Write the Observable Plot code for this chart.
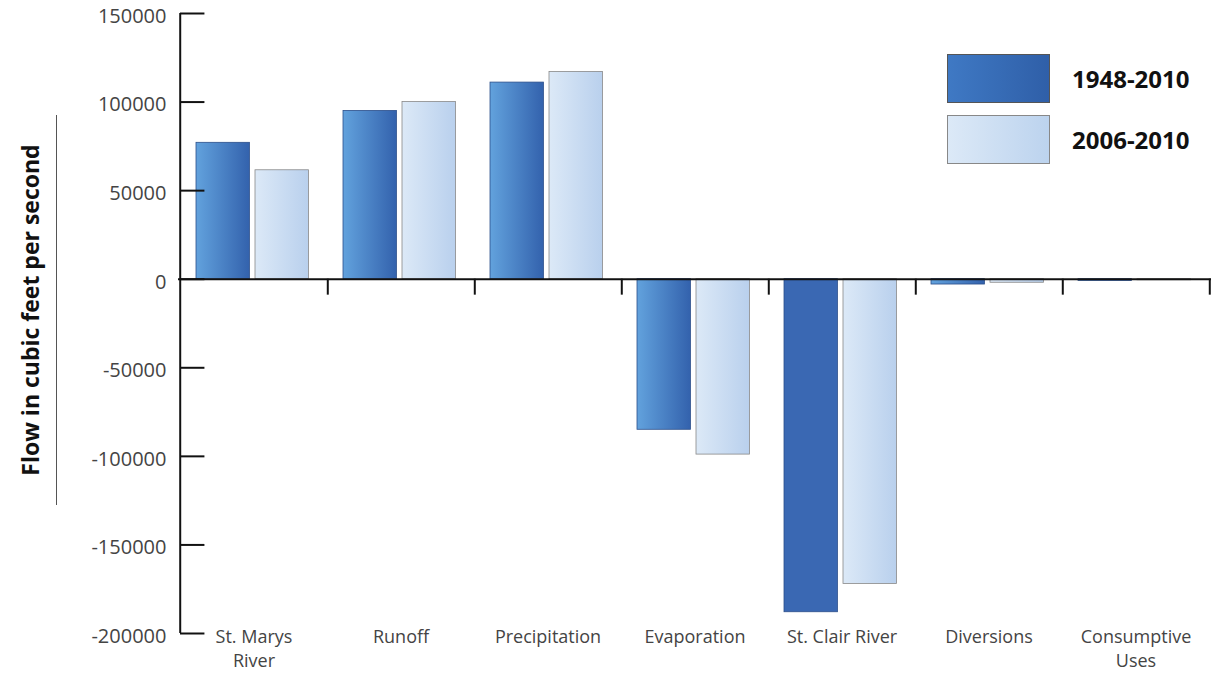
<!DOCTYPE html>
<html><head><meta charset="utf-8">
<script src="https://cdn.jsdelivr.net/npm/d3@7"></script>
<script src="https://cdn.jsdelivr.net/npm/@observablehq/plot@0.6"></script>
<style>
body{margin:0;background:#fff;font-family:"Open Sans",sans-serif}
#wrap{position:relative;width:1221px;height:676px}
#ylab{position:absolute;left:30px;top:310px;transform:translate(-50%,-50%) rotate(-90deg);font-weight:bold;font-size:23px;color:#111;white-space:nowrap}
#yline{position:absolute;left:56px;top:115px;width:1px;height:390px;background:#555}
.leg{position:absolute;left:947px;width:103px;height:49px;border:1px solid #555;box-sizing:border-box}
.legt{position:absolute;left:1072px;font-weight:bold;font-size:24px;color:#111}
</style></head><body>
<div id="wrap">
<div id="chart"></div>
<div id="ylab">Flow in cubic feet per second</div>
<div id="yline"></div>
<div class="leg" style="top:54px;background:linear-gradient(to right,#3f79c4,#2f5fa8)"></div>
<div class="legt" style="top:62px">1948-2010</div>
<div class="leg" style="top:115px;background:linear-gradient(to right,#dce9f7,#bcd3ee);border-color:#888"></div>
<div class="legt" style="top:123px">2006-2010</div>
</div>
<script>
const categories = ["St. Marys\nRiver", "Runoff", "Precipitation", "Evaporation", "St. Clair River", "Diversions", "Consumptive\nUses"]
const v1948 = [77000, 95000, 111000, -85000, -188000, -3000, -1000]
const v2006 = [61500, 100000, 117000, -99000, -172000, -2000, -600]
const yTicks = [150000, 100000, 50000, 0, -50000, -100000, -150000, -200000]

const d1 = categories.map((c, i) => ({cat: c, v: v1948[i]}))
const d2 = categories.map((c, i) => ({cat: c, v: v2006[i]}))
const W = 1221, ml = 178, mr = 10
const band = (W - ml - mr) / categories.length

const chart = Plot.plot({
  width: W, height: 676,
  marginLeft: ml, marginRight: mr, marginTop: 13, marginBottom: 43,
  style: {fontFamily: "Open Sans", fontSize: "19px", color: "#444", overflow: "visible"},
  x: {domain: categories, padding: 0, axis: null},
  y: {domain: [-200000, 150000], axis: null},
  marks: [
    Plot.barY(d1, {x: "cat", y: "v", insetLeft: 16, insetRight: band - 70,
      fill: d => d.cat === "St. Clair River" ? "#3a68b3" : "url(#g1)", stroke: "#2c4f8a", strokeWidth: 0.8}),
    Plot.barY(d2, {x: "cat", y: "v", insetLeft: 75, insetRight: band - 129,
      fill: "url(#g2)", stroke: "#888", strokeWidth: 0.8}),
    Plot.ruleY([0], {stroke: "#111", strokeWidth: 2}),
    Plot.ruleX(categories, {x: d => d, y1: 0, y2: -9000, dx: band / 2, stroke: "#111", strokeWidth: 2}),
    Plot.ruleX([categories[0]], {x: d => d, y1: -200000, y2: 150000, dx: -band / 2, stroke: "#111", strokeWidth: 2}),
    Plot.tickY(yTicks, {y: d => d, x: () => categories[0], insetRight: band - 25, stroke: "#111", strokeWidth: 2}),
    Plot.axisY(yTicks, {anchor: "left", tickSize: 0, tickPadding: 12, label: null, fontSize: 20, fill: "#444",
      tickFormat: d => String(d), dy: 3}),
    Plot.axisX({anchor: "bottom", tickSize: 0, tickPadding: 0, label: null, fontSize: 18, fill: "#444", lineHeight: 1.35, dy: -8})
  ]
})

const defs = d3.select(chart).insert("defs", ":first-child")
const grad = (id, a, b) => {
  const g = defs.append("linearGradient").attr("id", id).attr("x1", "0%").attr("x2", "100%")
  g.append("stop").attr("offset", "0%").attr("stop-color", a)
  g.append("stop").attr("offset", "100%").attr("stop-color", b)
}
grad("g1", "#62a2dd", "#3362ad")
grad("g2", "#dce9f7", "#b9d0ed")

d3.select('#chart').append(() => chart)
</script>
</body></html>
